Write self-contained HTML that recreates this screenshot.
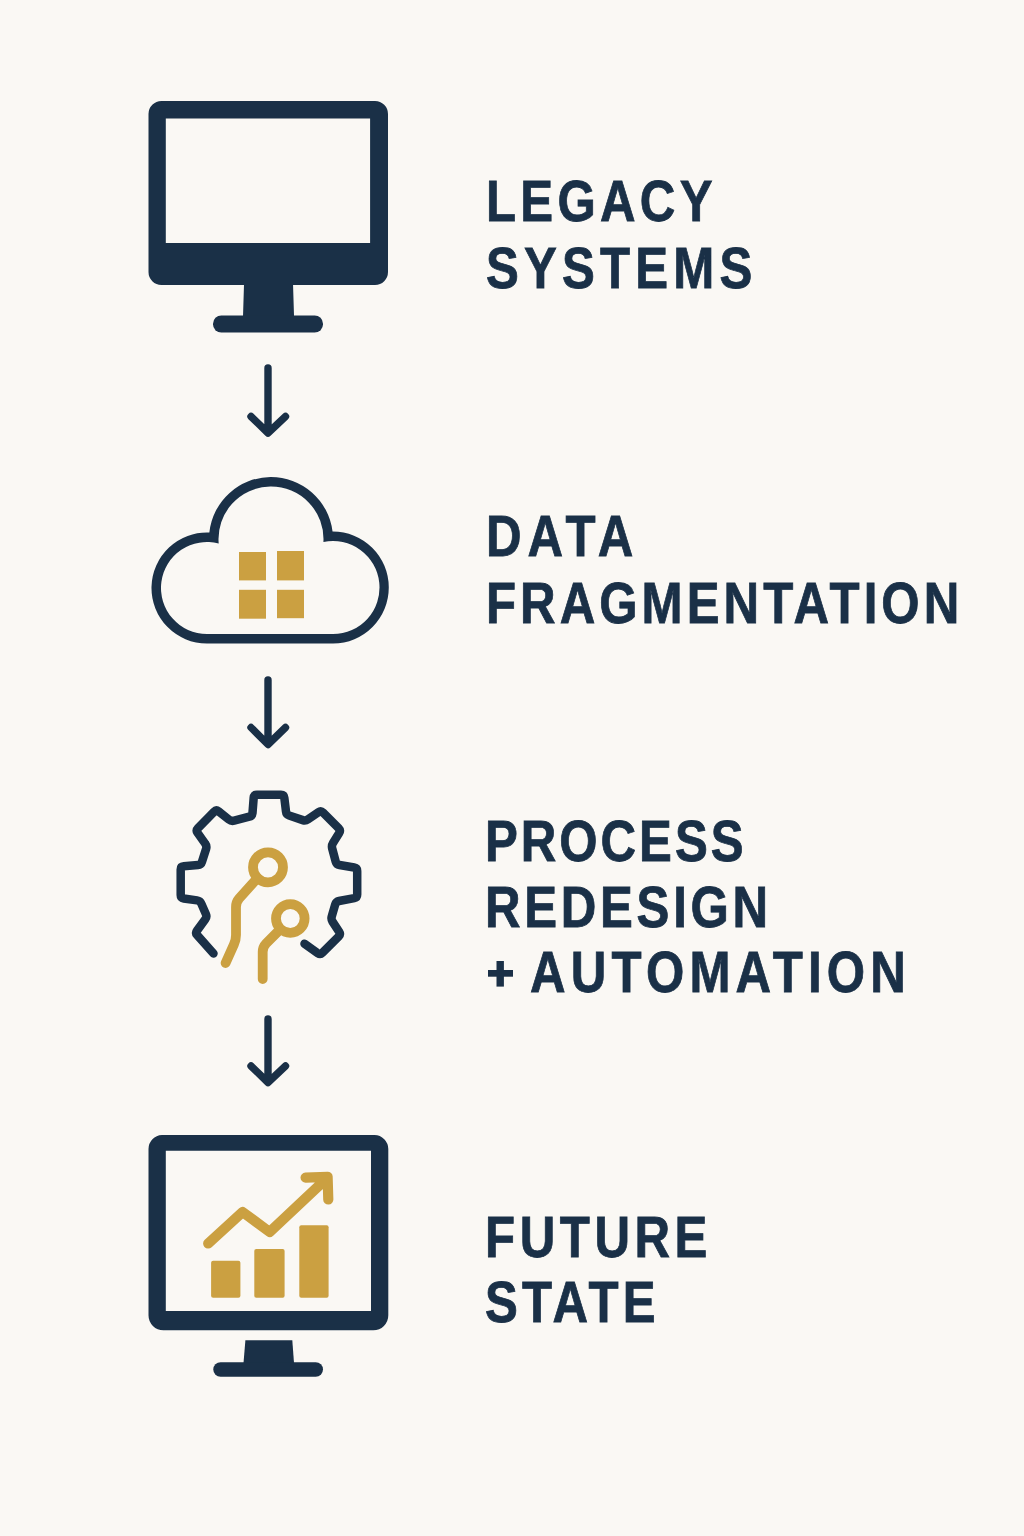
<!DOCTYPE html>
<html>
<head>
<meta charset="utf-8">
<style>
html,body{margin:0;padding:0;}
body{width:1024px;height:1536px;background:#faf8f4;position:relative;overflow:hidden;}
svg{position:absolute;left:0;top:0;}
.t{position:absolute;left:0;top:0;margin:0;font-family:"Liberation Sans",sans-serif;font-weight:bold;color:#1a3047;font-size:56.6px;line-height:65.38px;white-space:nowrap;transform:scaleX(0.87);transform-origin:0 0;-webkit-text-stroke:0.8px #1a3047;}
</style>
</head>
<body>
<svg width="1024" height="1536" viewBox="0 0 1024 1536">
  <g fill="#1a3047">
    <!-- monitor 1 -->
    <path fill-rule="evenodd" d="M161.5 101 H375 A13 13 0 0 1 388 114 V272 A13 13 0 0 1 375 285 H161.5 A13 13 0 0 1 148.5 272 V114 A13 13 0 0 1 161.5 101 Z M165.8 118.4 V243 H370.1 V118.4 Z"/>
    <path d="M244 284 H293 L294 316 H243 Z"/>
    <rect x="213" y="315.4" width="110" height="17.2" rx="8.4"/>
    <!-- monitor 4 -->
    <path fill-rule="evenodd" d="M162 1135 H374.5 A14 14 0 0 1 388.3 1149 V1315.3 A15 15 0 0 1 373.3 1330.3 H163.5 A15 15 0 0 1 148.5 1315.3 V1149 A14 14 0 0 1 162 1135 Z M165.8 1150.8 V1311 H371 V1150.8 Z"/>
    <path d="M245.4 1340.3 H292.3 L294 1363 H243.5 Z"/>
    <rect x="213.3" y="1362.2" width="109.7" height="14.6" rx="7.3"/>
  </g>
  <!-- arrows -->
  <g fill="none" stroke="#1a3047" stroke-width="7.4" stroke-linecap="round" stroke-linejoin="round">
    <path d="M268 368 V432 M251 416.5 L268 433 L285.5 416.5"/>
    <path d="M268 680 V744 M251 727.5 L268 744.5 L285.5 727.5"/>
    <path d="M268 1019 V1082 M251 1066 L268 1082.5 L285.5 1066"/>
  </g>
  <!-- cloud -->
  <path fill="#1a3047" fill-rule="evenodd" d="M207.00 643.50 A55.5 55.5 0 1 1 209.34 532.55 A62 62 0 0 1 332.54 531.50 A56 56 0 1 1 333.00 643.50 Z M207.00 634.00 A46 46 0 1 1 218.69 543.51 A52.5 52.5 0 1 1 323.41 542.00 A46.5 46.5 0 1 1 333.00 634.00 Z"/>
  <g fill="#cba041">
    <rect x="239" y="552" width="27" height="28.4"/>
    <rect x="277" y="551" width="27" height="29.4"/>
    <rect x="239" y="589.8" width="27" height="28.9"/>
    <rect x="277" y="589.8" width="27" height="28.4"/>
  </g>
  <!-- gear -->
  <path fill="none" stroke="#1a3047" stroke-width="8.5" stroke-linecap="round" stroke-linejoin="round"
    d="M213.5 953.5 L197.2 935.2 Q195.2 933.0 197.0 930.6 L205.3 919.3 Q207.1 916.9 205.9 914.1 L201.3 903.6 Q200.1 900.8 197.1 900.4 L183.7 898.5 Q180.7 898.1 180.7 895.1 L180.7 869.4 Q180.7 866.4 183.7 866.2 L198.0 865.1 Q201.0 864.9 201.9 862.0 L206.1 848.9 Q207.0 846.0 205.2 843.6 L197.6 832.9 Q195.8 830.5 197.9 828.3 L214.1 811.7 Q216.2 809.5 218.6 811.4 L228.8 819.5 Q231.2 821.4 234.1 820.7 L249.3 816.7 Q252.2 816.0 252.5 813.0 L253.7 797.7 Q254.0 794.7 257.0 794.7 L281.0 794.7 Q284.0 794.7 284.3 797.7 L286.0 811.6 Q286.3 814.6 289.1 815.5 L302.8 820.1 Q305.6 821.0 308.1 819.3 L318.4 812.2 Q320.9 810.5 323.0 812.6 L338.7 828.3 Q340.8 830.4 339.2 833.0 L333.0 843.0 Q331.4 845.6 332.2 848.5 L335.7 861.6 Q336.5 864.5 339.5 865.0 L354.2 867.5 Q357.2 868.0 357.2 871.0 L357.2 894.5 Q357.2 897.5 354.3 898.1 L339.0 901.0 Q336.1 901.6 335.2 904.5 L331.8 916.2 Q330.9 919.1 332.5 921.6 L339.2 931.9 Q340.8 934.4 338.7 936.5 L322.4 952.8 Q320.3 954.9 317.8 953.2 L304.5 943.8"/>
  <g fill="none" stroke="#cba041" stroke-width="9.8" stroke-linecap="round" stroke-linejoin="round">
    <circle cx="268" cy="867.3" r="15" />
    <circle cx="290.3" cy="918.5" r="14.3" />
    <path d="M225.6 963.0 L233.9 944.6 Q236.0 940.0 236.0 935.0 L236.0 907.0 Q236.0 902.0 239.3 898.3 L257.5 878.0"/>
    <path d="M262.7 979.0 L262.7 952.0 Q262.7 947.0 266.2 943.4 L280.0 929.5"/>
  </g>
  <!-- chart -->
  <g fill="#cba041">
    <rect x="211.1" y="1260.8" width="29.3" height="36.9" rx="2"/>
    <rect x="254.3" y="1249.1" width="30.3" height="48.6" rx="2"/>
    <rect x="299.3" y="1225.2" width="29.3" height="72.5" rx="2"/>
  </g>
  <path fill="none" stroke="#cba041" stroke-width="10.2" stroke-linecap="round" stroke-linejoin="round"
    d="M208.2 1243.5 L242.6 1212 L269.7 1232 L325 1180 M305.6 1177.6 L327.6 1176.8 L328.3 1199.5"/>
  <g fill="#1a3047"><rect x="488" y="970" width="25" height="6.7"/><rect x="496.5" y="961" width="7.4" height="25.6"/></g>
</svg>

<div class="t" style="left:485.60px;top:168.89px;letter-spacing:4.897px">LEGACY</div>
<div class="t" style="left:485.50px;top:235.69px;letter-spacing:5.939px">SYSTEMS</div>
<div class="t" style="left:486.30px;top:503.99px;letter-spacing:6.858px">DATA</div>
<div class="t" style="left:486.00px;top:571.29px;letter-spacing:4.636px">FRAGMENTATION</div>
<div class="t" style="left:485.00px;top:808.69px;letter-spacing:3.410px">PROCESS</div>
<div class="t" style="left:485.00px;top:875.49px;letter-spacing:4.253px">REDESIGN</div>
<div class="t" style="left:529.90px;top:940.09px;letter-spacing:5.977px">AUTOMATION</div>
<div class="t" style="left:485.00px;top:1204.89px;letter-spacing:5.241px">FUTURE</div>
<div class="t" style="left:485.30px;top:1270.49px;letter-spacing:4.770px">STATE</div>
</body>
</html>
